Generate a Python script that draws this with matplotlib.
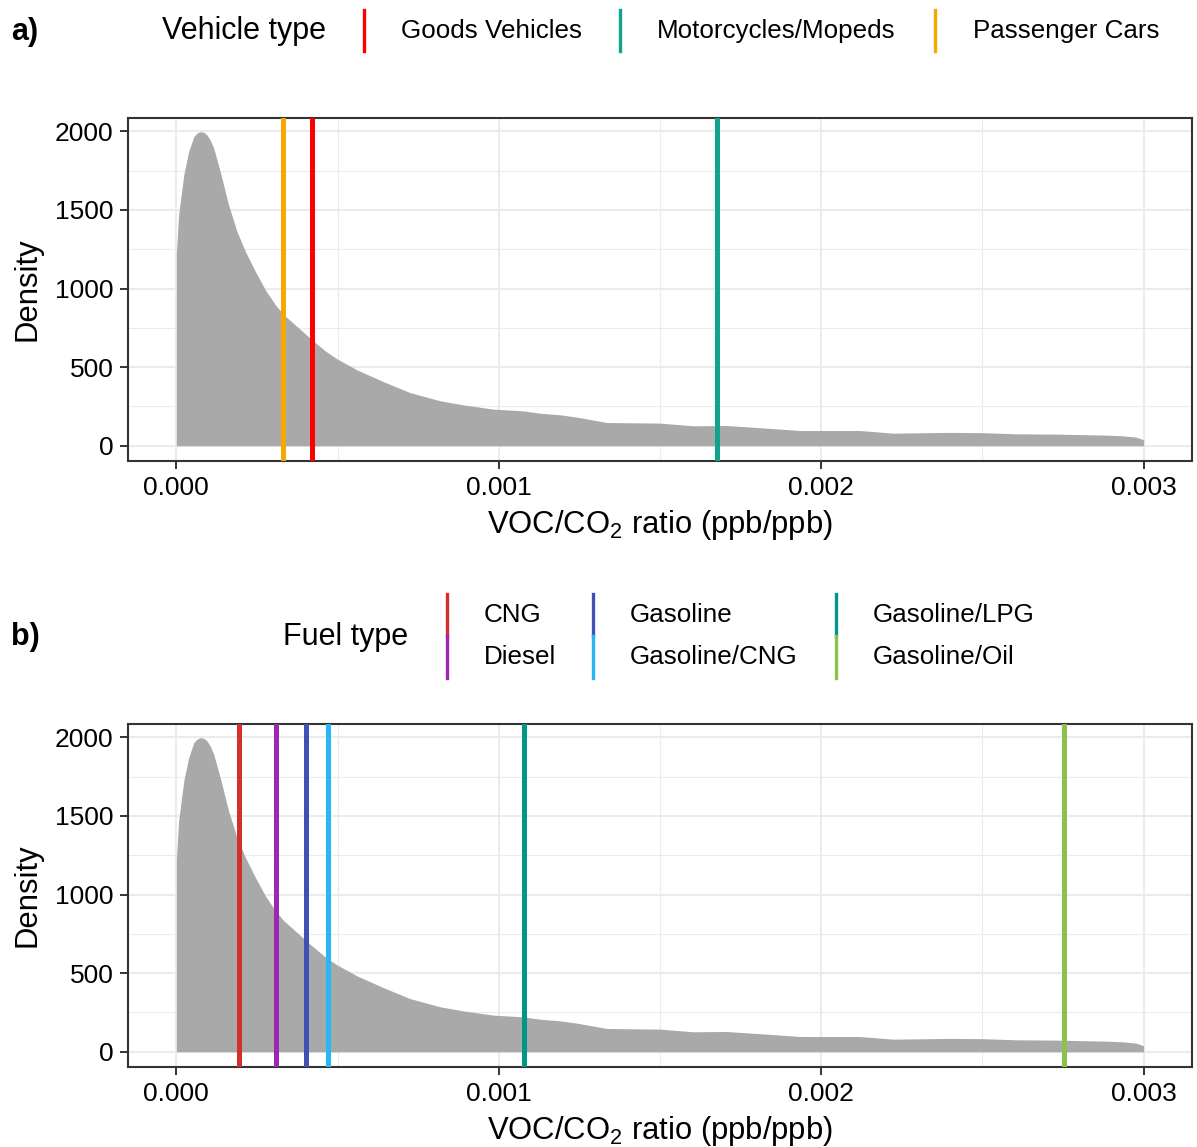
import matplotlib
matplotlib.use("Agg")
import matplotlib.pyplot as plt
from matplotlib.lines import Line2D
import numpy as np

plt.rcParams['font.family'] = ['Liberation Sans', 'DejaVu Sans']
plt.rcParams['mathtext.fontset'] = 'custom'
plt.rcParams['mathtext.rm'] = 'Liberation Sans'
plt.rcParams['mathtext.it'] = 'Liberation Sans:italic'
plt.rcParams['mathtext.bf'] = 'Liberation Sans:bold'

# ---- density curve, x in ppb/ppb ----
dens_x = np.array([0, 0.007, 0.023, 0.038, 0.054, 0.064, 0.074, 0.085, 0.095, 0.105,
                   0.116, 0.136, 0.162, 0.188, 0.214, 0.245, 0.276, 0.307, 0.333, 0.38,
                   0.42, 0.462, 0.498, 0.56, 0.642, 0.725, 0.818, 0.89, 0.983, 1.076,
                   1.128, 1.19, 1.242, 1.335, 1.5, 1.603, 1.706, 1.83, 1.934, 2.12,
                   2.223, 2.399, 2.502, 2.605, 2.729, 2.874, 2.936, 2.977, 3.0]) * 1e-3
dens_y = np.array([1225, 1469, 1723, 1871, 1966, 1989, 1998, 1994, 1977, 1945,
                   1892, 1744, 1532, 1363, 1236, 1109, 992, 897, 834, 748,
                   675, 603, 553, 483, 408, 338, 286, 260, 233, 222,
                   207, 197, 182, 148, 144, 127, 129, 112, 97, 97,
                   80, 85, 83, 76, 74, 68, 63, 55, 38])

# ---- panel a: vehicle types ----
vehicle_types = ["Goods Vehicles", "Motorcycles/Mopeds", "Passenger Cars"]
vehicle_vals = [0.000421, 0.001676, 0.000332]
vehicle_cols = ["#FF0000", "#11A38B", "#F5A900"]

# ---- panel b: fuel types ----
fuel_types = ["CNG", "Diesel", "Gasoline", "Gasoline/CNG", "Gasoline/LPG", "Gasoline/Oil"]
fuel_vals = [0.000195, 0.000310, 0.000403, 0.000471, 0.001078, 0.002752]
fuel_cols = ["#D32F2F", "#9C27B0", "#3F51B5", "#29B6F6", "#009688", "#8BC34A"]

x_ticks = [0, 0.001, 0.002, 0.003]
x_ticklabels = ["0.000", "0.001", "0.002", "0.003"]
y_ticks = [0, 500, 1000, 1500, 2000]
y_ticklabels = ["0", "500", "1000", "1500", "2000"]

W, H = 1197, 1147
fig = plt.figure(figsize=(W / 100, H / 100), dpi=100)

def fx(px):
    return px / W

def fy(py):
    return 1 - py / H

def make_panel(top, bottom, vals, cols):
    ax = fig.add_axes([fx(128), fy(bottom), fx(1192) - fx(128), (bottom - top) / H])
    ax.set_xlim(-0.00015, 0.00315)
    ax.set_ylim(-97, 2085)
    ax.set_xticks(x_ticks)
    ax.set_xticklabels(x_ticklabels)
    ax.set_yticks(y_ticks)
    ax.set_yticklabels(y_ticklabels)
    ax.set_xticks([0.0005, 0.0015, 0.0025], minor=True)
    ax.set_yticks([250, 750, 1250, 1750], minor=True)
    ax.grid(which='major', color='#EBEBEB', lw=1.5, zorder=0)
    ax.grid(which='minor', color='#EBEBEB', lw=0.8, zorder=0)
    ax.set_axisbelow(True)
    ax.tick_params(which='major', length=5.5, width=1.4, color='#333333',
                   labelsize=19, labelcolor='black', pad=5)
    ax.tick_params(which='minor', length=0)
    for s in ax.spines.values():
        s.set_color('#333333')
        s.set_linewidth(1.5)
    ax.fill_between(dens_x, 0, dens_y, color='#A9A9A9', lw=0, zorder=2)
    for v, c in zip(vals, cols):
        ax.axvline(v, color=c, lw=3.6, zorder=3)
    ax.set_ylabel("Density", fontsize=22.3, labelpad=9)
    ax.set_xlabel("VOC/CO$_2$ ratio (ppb/ppb)", fontsize=22.3, labelpad=6)
    return ax

ax_a = make_panel(118, 461, vehicle_vals, vehicle_cols)
ax_b = make_panel(724, 1067, fuel_vals, fuel_cols)

# ---- panel labels ----
fig.text(fx(11), fy(32), "a)", fontsize=22, fontweight='bold', va='center', ha='left')
fig.text(fx(11), fy(637), "b)", fontsize=22, fontweight='bold', va='center', ha='left')

# ---- legend a ----
fig.text(fx(162), fy(31), "Vehicle type", fontsize=22, va='center', ha='left')
key_x_a = [364, 620, 935]
lab_x_a = [401, 657, 973]
for name, col, kx, lx in zip(vehicle_types, vehicle_cols, key_x_a, lab_x_a):
    fig.add_artist(Line2D([fx(kx), fx(kx)], [fy(10), fy(51)], color=col, lw=2.4,
                          transform=fig.transFigure))
    fig.text(fx(lx), fy(31), name, fontsize=18.7, va='center', ha='left')

# ---- legend b ----
fig.text(fx(283), fy(637), "Fuel type", fontsize=22, va='center', ha='left')
key_x_b = [447, 593, 836]
lab_x_b = [484, 630, 873]
row_y = [615, 657]
row_span = [(594, 636), (636, 678)]
for i, (name, col) in enumerate(zip(fuel_types, fuel_cols)):
    c, r = i // 2, i % 2
    kx, lx = key_x_b[c], lab_x_b[c]
    y0, y1 = row_span[r]
    fig.add_artist(Line2D([fx(kx), fx(kx)], [fy(y0), fy(y1)], color=col, lw=2.4,
                          transform=fig.transFigure))
    fig.text(fx(lx), fy(row_y[r]), name, fontsize=18.7, va='center', ha='left')

fig.savefig("out.png", dpi=100, facecolor='white')
